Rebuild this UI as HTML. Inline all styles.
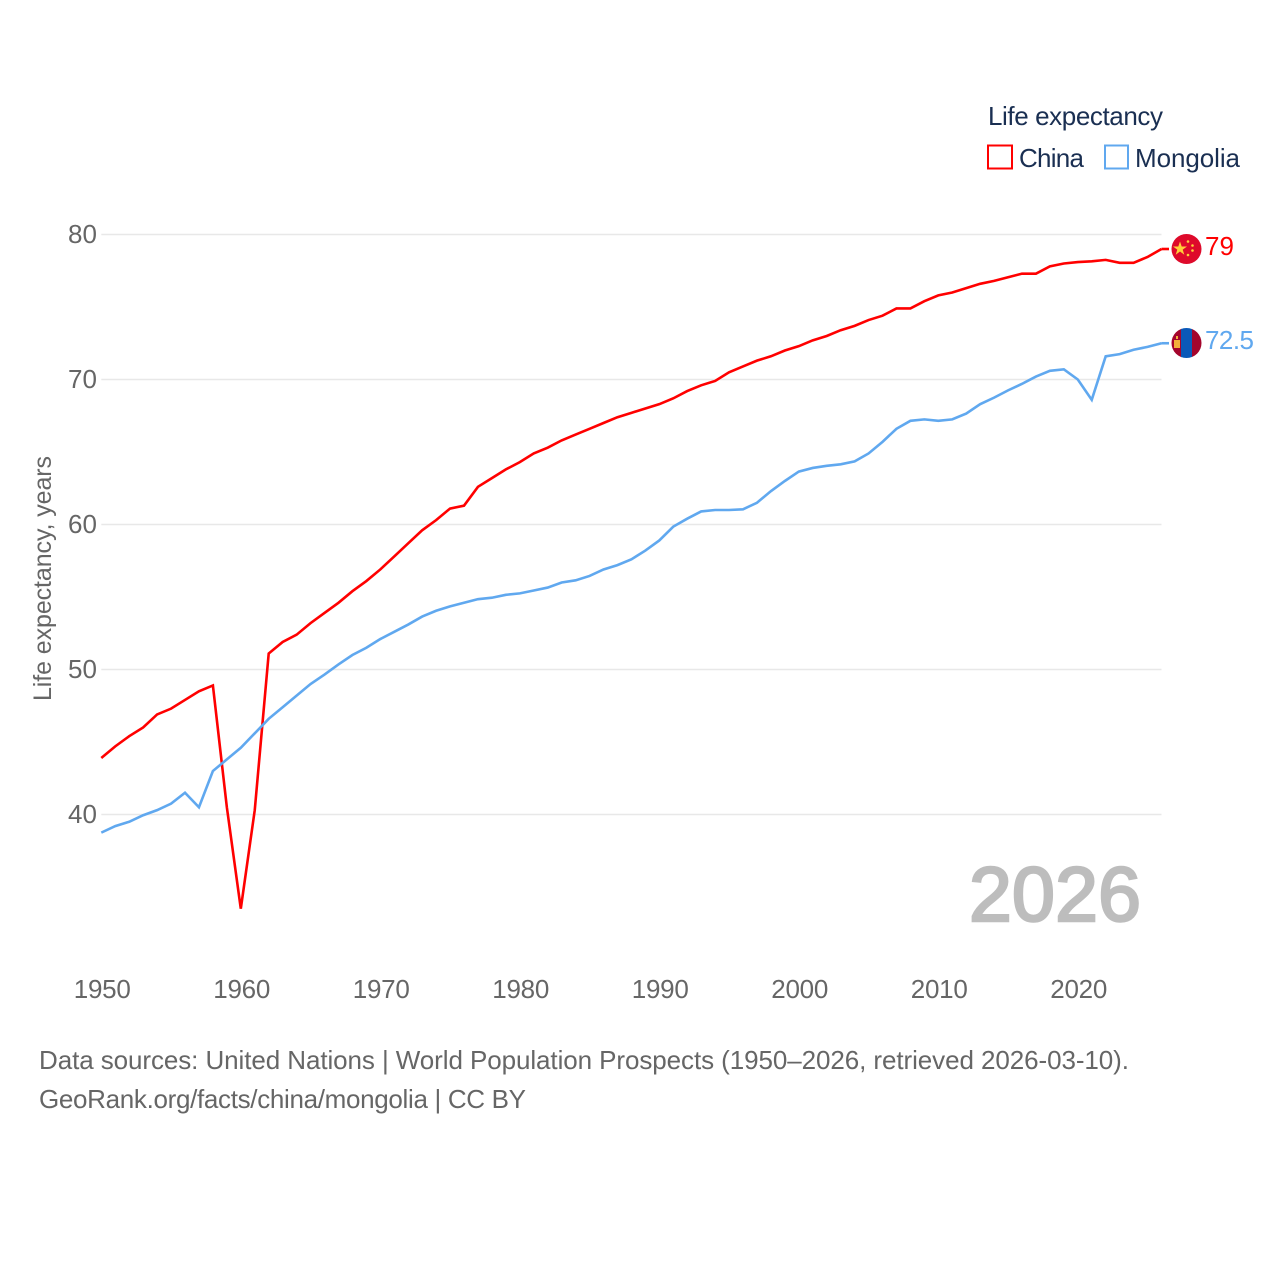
<!DOCTYPE html>
<html lang="en">
<head>
<meta charset="utf-8">
<title>Life expectancy: China and Mongolia</title>
<style>
html,body{margin:0;padding:0;background:#fff}
svg{display:block}
text{font-family:"Liberation Sans",sans-serif}
</style>
</head>
<body>
<svg id="chart" xmlns="http://www.w3.org/2000/svg" width="1280" height="1280" viewBox="0 0 1280 1280">
  <g id="grid"></g>
  <g id="yticks"></g>
  <g id="xticks"></g>
  <text transform="translate(51,701) rotate(-90)" font-size="25" fill="#666" textLength="245">Life expectancy, years</text>
  <text x="969" y="921" font-size="77" font-weight="400" fill="#bdbdbd" stroke="#bdbdbd" stroke-width="2.5" textLength="172">2026</text>
  <g id="series"></g>

  <g>
    <text x="988" y="125" font-size="26" fill="#1a2f52" textLength="175">Life expectancy</text>
    <rect x="988" y="145.5" width="24" height="23" fill="none" stroke="#ff0000" stroke-width="2"/>
    <text x="1019" y="167" font-size="26" fill="#1a2f52" textLength="65">China</text>
    <rect x="1105" y="145.5" width="23" height="23" fill="none" stroke="#60a8ef" stroke-width="2"/>
    <text x="1135" y="167" font-size="26" fill="#1a2f52" textLength="105">Mongolia</text>
  </g>

  <defs>
    <clipPath id="clip-china"><circle cx="1186.500" cy="249" r="15"/></clipPath>
    <clipPath id="clip-mongolia"><circle cx="1186.500" cy="343" r="15"/></clipPath>
  </defs>
  <circle cx="1186.500" cy="249" r="17.500" fill="#fff"/>
  <circle cx="1186.500" cy="343" r="17.500" fill="#fff"/>
  <g clip-path="url(#clip-china)">
    <rect x="1171" y="233" width="31" height="32" fill="#de0a2b"/>
    <polygon points="1180,241.500 1181.700,246.500 1187,246.500 1182.700,249.600 1184.300,254.700 1180,251.500 1175.700,254.700 1177.300,249.600 1173,246.500 1178.300,246.500" fill="#ffcf3a"/>
    <circle cx="1188" cy="241.500" r="1.300" fill="#ffcf3a"/>
    <circle cx="1192.500" cy="245.500" r="1.300" fill="#ffcf3a"/>
    <circle cx="1192.500" cy="250.500" r="1.300" fill="#ffcf3a"/>
    <circle cx="1188" cy="255" r="1.300" fill="#ffcf3a"/>
  </g>
  <g clip-path="url(#clip-mongolia)">
    <rect x="1171" y="327" width="11" height="32" fill="#a4052c"/>
    <rect x="1181" y="327" width="11" height="32" fill="#0a59b8"/>
    <rect x="1192" y="327" width="11" height="32" fill="#a4052c"/>
    <rect x="1174" y="340" width="6" height="8" fill="#f2b13b"/>
    <rect x="1176" y="336" width="2" height="3" fill="#f2b13b"/>
  </g>
  <text x="1205" y="255" font-size="26" fill="#ff0000" textLength="29">79</text>
  <text x="1205" y="349" font-size="26" fill="#60a8ef" textLength="49">72.5</text>

  <g>
    <text x="39" y="1069" font-size="26" fill="#666" textLength="1090">Data sources: United Nations | World Population Prospects (1950–2026, retrieved 2026-03-10).</text>
    <text x="39" y="1108" font-size="26" fill="#666" textLength="487">GeoRank.org/facts/china/mongolia | CC BY</text>
  </g>
</svg>
<script>
const firstYear = 1950;
const yTickValues = [40, 50, 60, 70, 80];
const xTickValues = [1950, 1960, 1970, 1980, 1990, 2000, 2010, 2020];
const chinaValues = [
  43.9, 44.7, 45.4, 46, 46.9, 47.3, 47.9, 48.5, 48.9, 40.5,
  33.5, 40.3, 51.1, 51.9, 52.4, 53.2, 53.9, 54.6, 55.4, 56.1,
  56.9, 57.8, 58.7, 59.6, 60.3, 61.1, 61.3, 62.6, 63.2, 63.8,
  64.3, 64.9, 65.3, 65.8, 66.2, 66.6, 67, 67.4, 67.7, 68,
  68.3, 68.7, 69.2, 69.6, 69.9, 70.5, 70.9, 71.3, 71.6, 72,
  72.3, 72.7, 73, 73.4, 73.7, 74.1, 74.4, 74.9, 74.9, 75.4,
  75.8, 76, 76.3, 76.6, 76.8, 77.05, 77.3, 77.3, 77.8, 78,
  78.1, 78.15, 78.25, 78.05, 78.05, 78.45, 79
];
const mongoliaValues = [
  38.75, 39.2, 39.5, 39.95, 40.3, 40.75, 41.5, 40.5, 43, 43.8,
  44.6, 45.6, 46.6, 47.4, 48.2, 49, 49.65, 50.35, 51, 51.5,
  52.1, 52.6, 53.1, 53.65, 54.05, 54.35, 54.6, 54.85, 54.95, 55.15,
  55.25, 55.45, 55.65, 56, 56.15, 56.45, 56.9, 57.2, 57.6, 58.2,
  58.9, 59.85, 60.4, 60.9, 61, 61, 61.05, 61.5, 62.3, 63,
  63.65, 63.9, 64.05, 64.15, 64.35, 64.9, 65.7, 66.6, 67.15, 67.25,
  67.15, 67.25, 67.65, 68.3, 68.75, 69.25, 69.7, 70.2, 70.6, 70.7,
  70, 68.6, 71.6, 71.75, 72.05, 72.25, 72.5
];

const NS = 'http://www.w3.org/2000/svg';
function xScale(year) { return 101.3 + (year - 1950) * 13.95; }
function yScale(v) { return 814.5 - (v - 40) * 14.5; }
function make(tag, attrs, parent, text) {
  const el = document.createElementNS(NS, tag);
  for (const k in attrs) el.setAttribute(k, attrs[k]);
  if (text !== undefined) el.textContent = text;
  parent.appendChild(el);
  return el;
}

const gridGroup = document.getElementById('grid');
const yGroup = document.getElementById('yticks');
const xGroup = document.getElementById('xticks');
const seriesGroup = document.getElementById('series');
const plotEndX = xScale(firstYear + chinaValues.length - 1);

yTickValues.forEach(function (v) {
  const line = make('line', {x1: xScale(firstYear), x2: plotEndX, y1: yScale(v), y2: yScale(v), stroke: '#e8e8e8', 'stroke-width': 1.5}, gridGroup);
  
  
  const label = make('text', {x: 97, y: yScale(v) + 8.5, 'font-size': 26, fill: '#666', 'text-anchor': 'end', textLength: 29}, yGroup, String(v));
  
  
});

xTickValues.forEach(function (year) {
  const label = make('text', {x: xScale(year) - 27.5, y: 998, 'font-size': 26, fill: '#666', textLength: 57}, xGroup, String(year));
  
  
});

function drawSeries(values, color) {
  const pts = values.map(function (v, i) {
    return xScale(firstYear + i).toFixed(2) + ',' + yScale(v).toFixed(2);
  });
  return make('polyline', {points: pts.join(' '), fill: 'none', stroke: color, 'stroke-width': 2.6, 'stroke-linejoin': 'miter'}, seriesGroup);
}
function drawConnector(values, color) {
  const last = values[values.length - 1];
  return make('line', {x1: plotEndX, x2: 1169, y1: yScale(last), y2: yScale(last), stroke: color, 'stroke-width': 2.6}, seriesGroup);
}

const chinaLine = drawSeries(chinaValues, '#ff0000');


const mongoliaLine = drawSeries(mongoliaValues, '#60a8ef');


const chinaConnector = drawConnector(chinaValues, '#ff0000');


const mongoliaConnector = drawConnector(mongoliaValues, '#60a8ef');


</script>
</body>
</html>
